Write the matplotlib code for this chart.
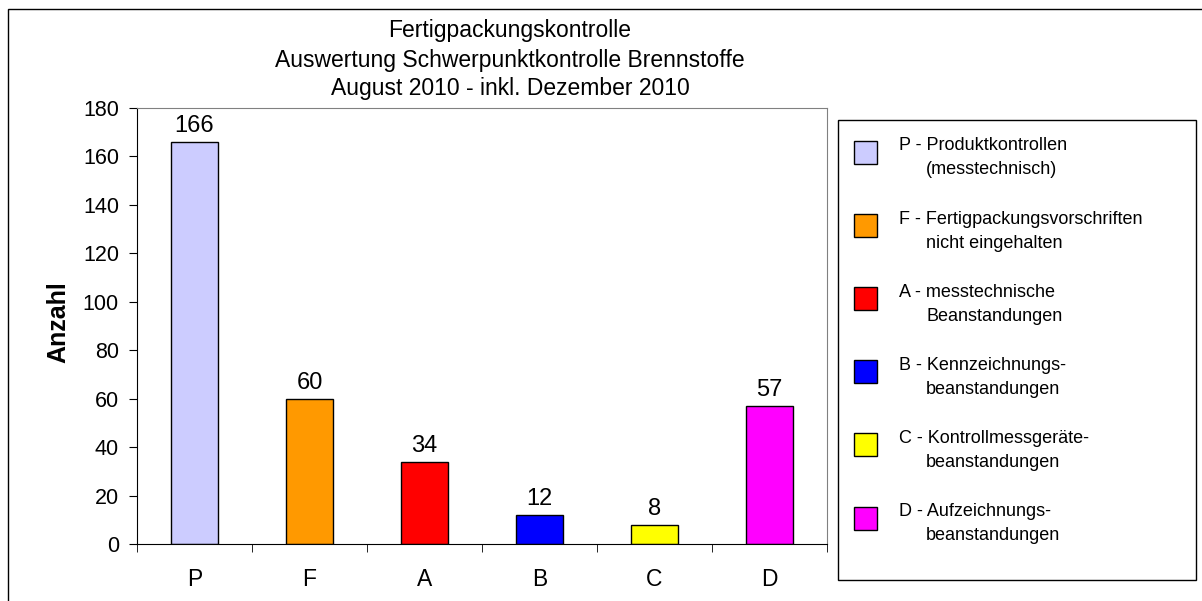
import matplotlib
matplotlib.use("Agg")
import matplotlib.pyplot as plt
from matplotlib.patches import Rectangle

plt.rcParams['font.family'] = ['Liberation Sans', 'DejaVu Sans']

# data
categories = ["P", "F", "A", "B", "C", "D"]
counts = [166, 60, 34, 12, 8, 57]
colors = ["#ccccff", "#ff9900", "#ff0000", "#0000ff", "#ffff00", "#ff00ff"]
legend_first = ["P - Produktkontrollen", "F - Fertigpackungsvorschriften",
                "A - messtechnische", "B - Kennzeichnungs-",
                "C - Kontrollmessgeräte-", "D - Aufzeichnungs-"]
legend_second = ["(messtechnisch)", "nicht eingehalten", "Beanstandungen",
                 "beanstandungen", "beanstandungen", "beanstandungen"]
title_lines = ["Fertigpackungskontrolle",
               "Auswertung Schwerpunktkontrolle Brennstoffe",
               "August 2010 - inkl. Dezember 2010"]

W, H = 1202, 601
fig = plt.figure(figsize=(W / 100, H / 100), dpi=100)

# outer chart frame
fig.patches.append(Rectangle((8 / W, -0.01), 1.0, 1 - 9 / H + 0.01, transform=fig.transFigure,
                             fill=False, edgecolor="black", linewidth=1))

ax = fig.add_axes([137 / W, 1 - 544 / H, (827 - 137) / W, (544 - 108) / H])
x = list(range(len(categories)))
bars = ax.bar(x, counts, width=0.41, color=colors, edgecolor="black", linewidth=1)
for xi, v in zip(x, counts):
    ax.text(xi, v + 2, str(v), ha="center", va="bottom", fontsize=17)

ax.set_xlim(-0.5, len(categories) - 0.5)
ax.set_ylim(0, 180)
ax.set_yticks(range(0, 181, 20))
ax.tick_params(axis="y", labelsize=15.5, length=6, pad=7, direction="out")
ax.set_xticks(x)
ax.set_xticklabels(categories)
ax.set_xticks([i - 0.5 for i in range(len(categories) + 1)], minor=True)
ax.tick_params(axis="x", which="major", length=0, labelsize=16.5, pad=17)
ax.tick_params(axis="x", which="minor", length=6, direction="out")
ax.set_ylabel("Anzahl", fontsize=18, fontweight="bold")
ax.yaxis.set_label_coords(-0.097, 0.51)

for side in ["top", "right"]:
    ax.spines[side].set_color("#808080")
for side in ["left", "bottom"]:
    ax.spines[side].set_color("black")

for i, line in enumerate(title_lines):
    fig.text(510 / W, 1 - (31 + i * 29) / H, line, ha="center", va="center", fontsize=16.5)

# legend box
lx0, ly0, lx1, ly1 = 838, 120, 1196, 580
fig.patches.append(Rectangle((lx0 / W, 1 - ly1 / H), (lx1 - lx0) / W, (ly1 - ly0) / H,
                             transform=fig.transFigure, fill=False, edgecolor="black", linewidth=1))
for i in range(len(categories)):
    cy = 152 + i * 73.2
    fig.patches.append(Rectangle((854 / W, 1 - (cy + 11.5) / H), 23 / W, 23 / H,
                                 transform=fig.transFigure, facecolor=colors[i],
                                 edgecolor="black", linewidth=1))
    fig.text(899 / W, 1 - (cy - 6) / H, legend_first[i], ha="left", va="center", fontsize=13)
    fig.text(926 / W, 1 - (cy + 18) / H, legend_second[i], ha="left", va="center", fontsize=13)

fig.savefig("out.png", dpi=100)
